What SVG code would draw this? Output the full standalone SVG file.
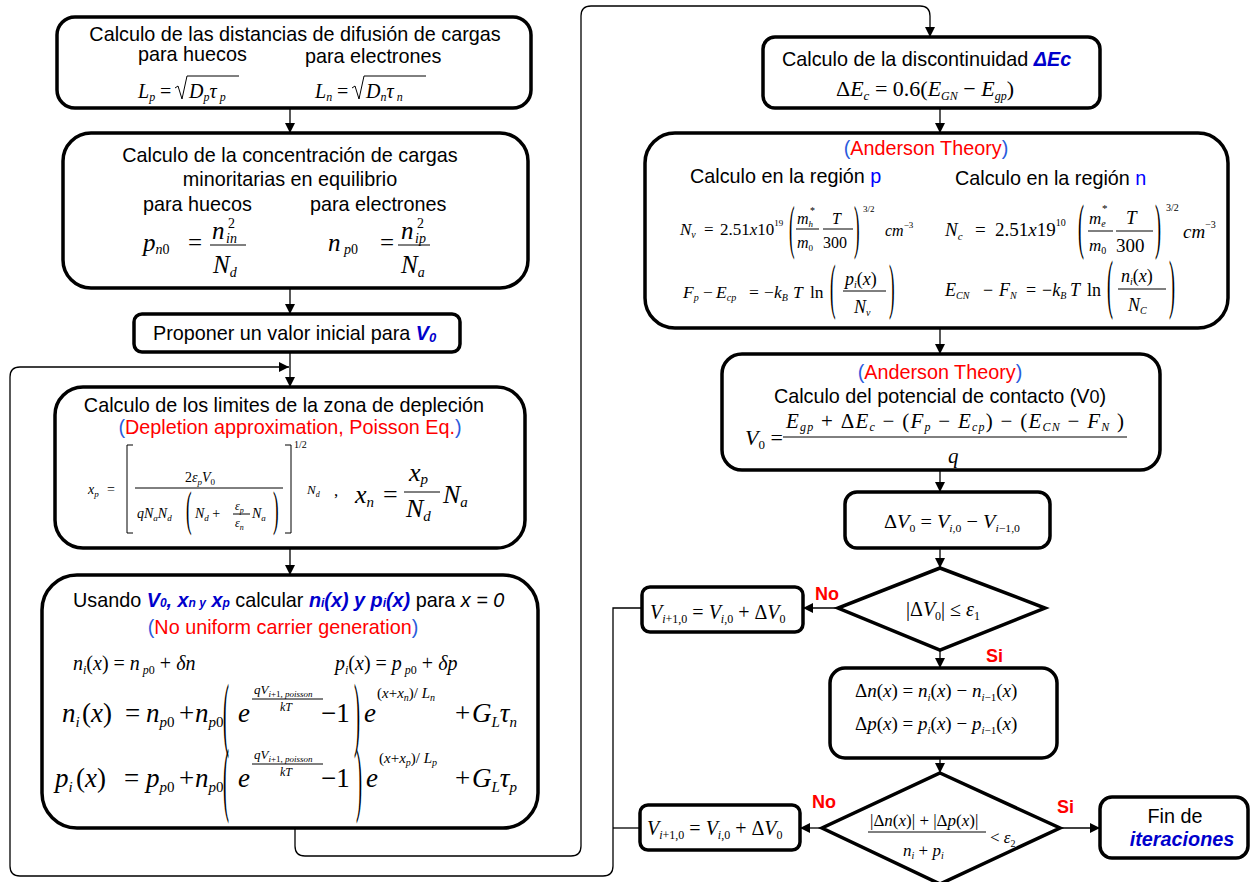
<svg xmlns="http://www.w3.org/2000/svg" width="1252" height="882" viewBox="0 0 1252 882">
<defs>
<marker id="ah" markerWidth="10" markerHeight="10" refX="10" refY="5" orient="auto" markerUnits="userSpaceOnUse">
<path d="M0,0 L10,5 L0,10 z" fill="#000"/>
</marker>
<style>
.box{fill:#fff;stroke:#000;stroke-width:3.5}
.c{fill:none;stroke:#000;stroke-width:1.3}
.t{font-family:"Liberation Sans",Arial,sans-serif;font-size:19.8px;fill:#000}
.m{font-family:"Liberation Serif","Times New Roman",serif;font-style:italic;fill:#000}
.u{font-style:normal}
.red{fill:#ff0000}
.bl{fill:#2a5bdc}
.db{fill:#0000cc;font-weight:bold;font-style:italic}
.lab{font-family:"Liberation Sans",Arial,sans-serif;font-size:18px;font-weight:bold;fill:#ff0000}
.bar{stroke:#000;stroke-width:1;fill:none}
.p{font-family:"Liberation Serif","Times New Roman",serif;font-size:12px;fill:#000}
</style>
</defs>
<rect width="1252" height="882" fill="#fff"/>

<g id="connectors">
<path class="c" d="M290,108 V133" marker-end="url(#ah)"/>
<path class="c" d="M290,288 V314" marker-end="url(#ah)"/>
<path class="c" d="M290,352 V387" marker-end="url(#ah)"/>
<path class="c" d="M290,548 V575" marker-end="url(#ah)"/>
<path class="c" d="M642,608 H613 V866 Q613,876 603,876 H20 Q10,876 10,866 V377 Q10,367 20,367 H289" marker-end="url(#ah)"/>
<path class="c" d="M640,828 H613"/>
<path class="c" d="M295,828 V846 Q295,856 305,856 H571 Q581,856 581,846 V16 Q581,6 591,6 H920 Q930,6 930,16 V37" marker-end="url(#ah)"/>
<path class="c" d="M940,108 V133" marker-end="url(#ah)"/>
<path class="c" d="M940,328 V354" marker-end="url(#ah)"/>
<path class="c" d="M940,470 V492" marker-end="url(#ah)"/>
<path class="c" d="M940,548 V568" marker-end="url(#ah)"/>
<path class="c" d="M838,608 H803" marker-end="url(#ah)"/>
<path class="c" d="M940,650 V668" marker-end="url(#ah)"/>
<path class="c" d="M940,758 V773" marker-end="url(#ah)"/>
<path class="c" d="M822,828 H800" marker-end="url(#ah)"/>
<path class="c" d="M1060,828 H1100" marker-end="url(#ah)"/>
</g>

<g id="n1">
<rect class="box" x="57" y="17" width="474" height="91" rx="18"/>
<text class="t" x="295" y="41" text-anchor="middle">Calculo de las distancias de difusión de cargas</text>
<text class="t" x="138" y="61">para huecos</text>
<text class="t" x="305" y="63">para electrones</text>
<text class="m" font-size="20" x="138" y="98">L<tspan font-size="12" dy="3">p</tspan><tspan class="u" dy="-3" x="160">=</tspan></text>
<polyline class="bar" points="175,88 178,86 182,99 187,76 239,76"/>
<text class="m" font-size="20" x="189" y="98">D<tspan font-size="12" dy="3">p</tspan><tspan dy="-3">τ</tspan><tspan font-size="12" dy="3"> p</tspan></text>
<text class="m" font-size="20" x="315" y="98">L<tspan font-size="12" dy="3">n</tspan><tspan class="u" dy="-3" x="337">=</tspan></text>
<polyline class="bar" points="352,88 355,86 359,99 364,76 426,76"/>
<text class="m" font-size="20" x="366" y="98">D<tspan font-size="12" dy="3">n</tspan><tspan dy="-3">τ</tspan><tspan font-size="12" dy="3"> n</tspan></text>
</g>

<g id="n2">
<rect class="box" x="63" y="133" width="465" height="155" rx="28"/>
<text class="t" x="290" y="162" text-anchor="middle">Calculo de la concentración de cargas</text>
<text class="t" x="290" y="186" text-anchor="middle">minoritarias en equilibrio</text>
<text class="t" x="143" y="211">para huecos</text>
<text class="t" x="310" y="211">para electrones</text>
<text class="m" font-size="25" x="143" y="251">p<tspan font-size="14" dy="3">n</tspan><tspan class="u" font-size="14">0</tspan><tspan class="u" dy="-3" x="188">=</tspan></text>
<text class="m" font-size="25" x="212" y="239">n</text>
<text class="m u" font-size="14" x="228" y="228">2</text>
<text class="m" font-size="14" x="226" y="243">in</text>
<line class="bar" x1="210" y1="245" x2="246" y2="245"/>
<text class="m" font-size="25" x="213" y="273">N<tspan font-size="14" dy="4">d</tspan></text>
<text class="m" font-size="25" x="328" y="251">n<tspan font-size="14" dy="3"> p</tspan><tspan class="u" font-size="14">0</tspan><tspan class="u" dy="-3" x="380">=</tspan></text>
<text class="m" font-size="25" x="401" y="239">n</text>
<text class="m u" font-size="14" x="417" y="228">2</text>
<text class="m" font-size="14" x="415" y="243">ip</text>
<line class="bar" x1="398" y1="245" x2="430" y2="245"/>
<text class="m" font-size="25" x="401" y="273">N<tspan font-size="14" dy="4">a</tspan></text>
</g>

<g id="n3">
<rect class="box" x="134" y="314" width="326" height="38" rx="8"/>
<text class="t" font-size="18.6" x="153" y="340">Proponer un valor inicial para <tspan class="db">V</tspan><tspan class="db" font-size="13" dy="2">0</tspan></text>
</g>

<g id="n4">
<rect class="box" x="55" y="387" width="470" height="161" rx="28"/>
<text class="t" x="284" y="412" text-anchor="middle">Calculo de los limites de la zona de depleción</text>
<text class="t" x="290" y="434" text-anchor="middle"><tspan class="bl">(</tspan><tspan class="red">Depletion approximation, Poisson Eq.</tspan><tspan class="bl">)</tspan></text>
<text class="m" font-size="14" x="88" y="494">x<tspan font-size="9" dy="3">p</tspan><tspan class="u" dy="-3" x="107">=</tspan></text>
<polyline class="bar" points="133,445 127,445 127,533 133,533"/>
<polyline class="bar" points="285,445 291,445 291,533 285,533"/>
<text class="m" font-size="14" x="185" y="482"><tspan class="u">2</tspan>ε<tspan font-size="9" dy="3">p</tspan><tspan dy="-3">V</tspan><tspan class="u" font-size="9" dy="3">0</tspan></text>
<line class="bar" x1="135" y1="488" x2="283" y2="488"/>
<text class="m" font-size="14" x="137" y="518">qN<tspan font-size="9" dy="3">a</tspan><tspan dy="-3">N</tspan><tspan font-size="9" dy="3">d</tspan></text>
<text class="p" transform="translate(186,524.5) scale(1.4,4)">(</text>
<text class="m" font-size="14" x="195" y="518">N<tspan font-size="9" dy="3">d</tspan><tspan class="u" dy="-3"> +</tspan></text>
<text class="m" font-size="12" x="235" y="510">ε<tspan font-size="8" dy="3">p</tspan></text>
<line class="bar" x1="233" y1="514" x2="250" y2="514"/>
<text class="m" font-size="12" x="235" y="527">ε<tspan font-size="8" dy="3">n</tspan></text>
<text class="m" font-size="14" x="252" y="518">N<tspan font-size="9" dy="3">a</tspan></text>
<text class="p" transform="translate(273,524.5) scale(1.4,4)">)</text>
<text class="m u" font-size="10" x="294" y="448">1/2</text>
<text class="m" font-size="13" x="307" y="494">N<tspan font-size="8" dy="3">d</tspan></text>
<text class="m u" font-size="17" x="334" y="496">,</text>
<text class="m" font-size="26" x="355" y="503">x<tspan font-size="15" dy="4">n</tspan><tspan class="u" dy="-4" x="383">=</tspan></text>
<text class="m" font-size="26" x="409" y="481">x<tspan font-size="15" dy="3">p</tspan></text>
<line class="bar" x1="404" y1="492" x2="440" y2="492"/>
<text class="m" font-size="26" x="406" y="517">N<tspan font-size="15" dy="4">d</tspan></text>
<text class="m" font-size="26" x="443" y="503">N<tspan font-size="15" dy="4">a</tspan></text>
</g>

<g id="n5">
<rect class="box" x="42" y="575" width="496" height="253" rx="35"/>
<text class="t" x="73" y="607">Usando <tspan class="db">V<tspan font-size="12">0</tspan>, x<tspan font-size="12">n y</tspan> x<tspan font-size="12">p</tspan></tspan> calcular <tspan class="db">n<tspan font-size="12">i</tspan>(x) y p<tspan font-size="12">i</tspan>(x)</tspan> para <tspan font-style="italic">x = 0</tspan></text>
<text class="t" x="283" y="634" text-anchor="middle"><tspan class="bl">(</tspan><tspan class="red">No uniform carrier generation</tspan><tspan class="bl">)</tspan></text>
<text class="m" font-size="20" x="73" y="670">n<tspan font-size="12" dy="4">i</tspan><tspan class="u" dy="-4">(</tspan>x<tspan class="u">) = </tspan>n<tspan font-size="12" dy="4"> p</tspan><tspan class="u" font-size="12">0</tspan><tspan class="u" dy="-4"> + </tspan>δn</text>
<text class="m" font-size="20" x="335" y="670">p<tspan font-size="12" dy="4">i</tspan><tspan class="u" dy="-4">(</tspan>x<tspan class="u">) = </tspan>p<tspan font-size="12" dy="4"> p</tspan><tspan class="u" font-size="12">0</tspan><tspan class="u" dy="-4"> + </tspan>δp</text>
<!-- row 1 -->
<text class="m" font-size="27" x="62" y="722">n<tspan font-size="15" dy="5">i</tspan><tspan class="u" dy="-5" x="82">(</tspan>x<tspan class="u">)</tspan></text>
<text class="m u" font-size="27" x="125" y="722">=</text>
<text class="m" font-size="27" x="146" y="722">n<tspan font-size="15" dy="5">p</tspan><tspan class="u" font-size="15">0</tspan></text>
<text class="m u" font-size="27" x="179" y="722">+</text>
<text class="m" font-size="27" x="195" y="722">n<tspan font-size="15" dy="5">p</tspan><tspan class="u" font-size="15">0</tspan></text>
<text class="p" transform="translate(223,740.5) scale(1.5,6.84)">(</text>
<text class="m" font-size="27" x="238" y="722">e</text>
<text class="m" font-size="13" x="254" y="694">qV<tspan font-size="9" dy="3">i</tspan><tspan class="u" font-size="9">+1, </tspan><tspan font-size="9">poisson</tspan></text>
<line class="bar" x1="252" y1="699" x2="323" y2="699"/>
<text class="m" font-size="12" x="280" y="711">kT</text>
<text class="m u" font-size="27" x="321" y="722">−1</text>
<text class="p" transform="translate(354,740.5) scale(1.5,6.84)">)</text>
<text class="m" font-size="27" x="364" y="722">e</text>
<text class="m" font-size="15" x="377" y="698"><tspan class="u">(</tspan>x<tspan class="u">+</tspan>x<tspan font-size="10" dy="3">n</tspan><tspan class="u" dy="-3">)/ </tspan>L<tspan font-size="10" dy="3">n</tspan></text>
<text class="m u" font-size="27" x="455" y="722">+</text>
<text class="m" font-size="27" x="472" y="722">G<tspan font-size="15" dy="5">L</tspan><tspan dy="-5">τ</tspan><tspan font-size="15" dy="5">n</tspan></text>
<!-- row 2 -->
<text class="m" font-size="27" x="55" y="787">p<tspan font-size="15" dy="5">i</tspan><tspan class="u" dy="-5" x="76">(</tspan>x<tspan class="u">)</tspan></text>
<text class="m u" font-size="27" x="124" y="787">=</text>
<text class="m" font-size="27" x="146" y="787">p<tspan font-size="15" dy="5">p</tspan><tspan class="u" font-size="15">0</tspan></text>
<text class="m u" font-size="27" x="179" y="787">+</text>
<text class="m" font-size="27" x="195" y="787">n<tspan font-size="15" dy="5">p</tspan><tspan class="u" font-size="15">0</tspan></text>
<text class="p" transform="translate(223,805.5) scale(1.5,6.84)">(</text>
<text class="m" font-size="27" x="238" y="787">e</text>
<text class="m" font-size="13" x="254" y="759">qV<tspan font-size="9" dy="3">i</tspan><tspan class="u" font-size="9">+1, </tspan><tspan font-size="9">poisson</tspan></text>
<line class="bar" x1="252" y1="764" x2="323" y2="764"/>
<text class="m" font-size="12" x="280" y="776">kT</text>
<text class="m u" font-size="27" x="321" y="787">−1</text>
<text class="p" transform="translate(356,805.5) scale(1.5,6.84)">)</text>
<text class="m" font-size="27" x="366" y="787">e</text>
<text class="m" font-size="15" x="379" y="763"><tspan class="u">(</tspan>x<tspan class="u">+</tspan>x<tspan font-size="10" dy="3">p</tspan><tspan class="u" dy="-3">)/ </tspan>L<tspan font-size="10" dy="3">p</tspan></text>
<text class="m u" font-size="27" x="455" y="787">+</text>
<text class="m" font-size="27" x="472" y="787">G<tspan font-size="15" dy="5">L</tspan><tspan dy="-5">τ</tspan><tspan font-size="15" dy="5">p</tspan></text>
</g>

<g id="n6">
<rect class="box" x="763" y="37" width="337" height="71" rx="12"/>
<text class="t" x="782" y="66">Calculo de la discontinuidad <tspan class="db">ΔEc</tspan></text>
<text class="m" font-size="22" x="836" y="96"><tspan class="u">Δ</tspan>E<tspan font-size="13" dy="4">c</tspan><tspan class="u" dy="-4"> = 0.6(</tspan>E<tspan font-size="12" dy="4">GN</tspan><tspan class="u" dy="-4"> − </tspan>E<tspan font-size="12" dy="4">gp</tspan><tspan class="u" dy="-4">)</tspan></text>
</g>

<g id="n7">
<rect class="box" x="645" y="133" width="583" height="195" rx="30"/>
<text class="t" x="926" y="155" text-anchor="middle"><tspan class="bl">(</tspan><tspan class="red">Anderson Theory</tspan><tspan class="bl">)</tspan></text>
<text class="t" font-size="23" x="690" y="183">Calculo en la región <tspan fill="#0000ff">p</tspan></text>
<text class="t" font-size="23" x="955" y="185">Calculo en la región <tspan fill="#0000ff">n</tspan></text>
<!-- Nv -->
<text class="m" font-size="17" x="680" y="235">N<tspan font-size="10" dy="3">v</tspan><tspan class="u" dy="-3" x="704">=</tspan><tspan class="u" x="720">2.51</tspan>x<tspan class="u">10</tspan><tspan class="u" font-size="9" dy="-9">19</tspan></text>
<text class="p" transform="translate(789,246.6) scale(1.4,4.88)">(</text>
<text class="m" font-size="16" x="797" y="224">m<tspan font-size="9" dy="3">h</tspan></text>
<text class="m u" font-size="10" x="810" y="214">*</text>
<line class="bar" x1="796" y1="229" x2="819" y2="229"/>
<text class="m" font-size="16" x="797" y="248">m<tspan class="u" font-size="9" dy="3">0</tspan></text>
<text class="m" font-size="16" x="832" y="224">T</text>
<line class="bar" x1="823" y1="229" x2="853" y2="229"/>
<text class="m u" font-size="16" x="823" y="248">300</text>
<text class="p" transform="translate(854,246.6) scale(1.4,4.88)">)</text>
<text class="m u" font-size="9" x="863" y="212">3/2</text>
<text class="m" font-size="16" x="885" y="236">cm<tspan class="u" font-size="9" dy="-8">−3</tspan></text>
<!-- Nc -->
<text class="m" font-size="19" x="945" y="236">N<tspan font-size="11" dy="4">c</tspan><tspan class="u" dy="-4" x="975">=</tspan><tspan class="u" x="995">2.51</tspan>x<tspan class="u">19</tspan><tspan class="u" font-size="10" dy="-10">10</tspan></text>
<text class="p" transform="translate(1078,247) scale(1.5,5.18)">(</text>
<text class="m" font-size="17" x="1089" y="224">m<tspan font-size="10" dy="3">e</tspan></text>
<text class="m u" font-size="11" x="1102" y="212">*</text>
<line class="bar" x1="1088" y1="231" x2="1113" y2="231"/>
<text class="m" font-size="17" x="1089" y="251">m<tspan class="u" font-size="10" dy="3">0</tspan></text>
<text class="m" font-size="19" x="1126" y="224">T</text>
<line class="bar" x1="1116" y1="231" x2="1153" y2="231"/>
<text class="m u" font-size="19" x="1116" y="252">300</text>
<text class="p" transform="translate(1155,247) scale(1.5,5.18)">)</text>
<text class="m u" font-size="10" x="1166" y="211">3/2</text>
<text class="m" font-size="19" x="1183" y="238">cm<tspan class="u" font-size="10" dy="-10">−3</tspan></text>
<!-- Fp -->
<text class="m" font-size="17.5" x="683" y="298">F<tspan font-size="10" dy="3">p</tspan><tspan class="u" dy="-3" x="703">−</tspan><tspan x="716">E</tspan><tspan font-size="10" dy="3">cp</tspan><tspan class="u" dy="-3" x="749">=</tspan><tspan class="u" x="764">−</tspan>k<tspan font-size="10" dy="3">B</tspan><tspan dy="-3" x="793">T</tspan><tspan class="u" x="810">ln</tspan></text>
<text class="p" transform="translate(830,307.2) scale(1.4,5.08)">(</text>
<text class="m" font-size="18" x="845" y="285">p<tspan font-size="10" dy="3">i</tspan><tspan class="u" dy="-3">(</tspan>x<tspan class="u">)</tspan></text>
<line class="bar" x1="843" y1="291" x2="886" y2="291"/>
<text class="m" font-size="18" x="854" y="313">N<tspan font-size="10" dy="3">v</tspan></text>
<text class="p" transform="translate(889,307.2) scale(1.4,5.08)">)</text>
<!-- ECN -->
<text class="m" font-size="18" x="945" y="296">E<tspan font-size="10" dy="3">CN</tspan><tspan class="u" dy="-3" x="983">−</tspan><tspan x="999">F</tspan><tspan font-size="10" dy="3">N</tspan><tspan class="u" dy="-3" x="1026">=</tspan><tspan class="u" x="1042">−</tspan>k<tspan font-size="10" dy="3">B</tspan><tspan dy="-3" x="1070">T</tspan><tspan class="u" x="1087">ln</tspan></text>
<text class="p" transform="translate(1107,306.4) scale(1.5,5.47)">(</text>
<text class="m" font-size="18" x="1121" y="282">n<tspan font-size="10" dy="3">i</tspan><tspan class="u" dy="-3">(</tspan>x<tspan class="u">)</tspan></text>
<line class="bar" x1="1118" y1="289" x2="1166" y2="289"/>
<text class="m" font-size="18" x="1128" y="311">N<tspan font-size="10" dy="3">C</tspan></text>
<text class="p" transform="translate(1169,306.4) scale(1.5,5.47)">)</text>
</g>

<g id="n8">
<rect class="box" x="722" y="354" width="438" height="116" rx="20"/>
<text class="t" x="940" y="379" text-anchor="middle"><tspan class="bl">(</tspan><tspan class="red">Anderson Theory</tspan><tspan class="bl">)</tspan></text>
<text class="t" font-size="22.5" x="940" y="403" text-anchor="middle">Calculo del potencial de contacto (V<tspan font-size="18">0</tspan>)</text>
<text class="m" font-size="22" x="745" y="445">V<tspan class="u" font-size="13" dy="4">0</tspan><tspan class="u" dy="-4"> =</tspan></text>
<text class="m" font-size="21" x="786" y="428" textLength="338" lengthAdjust="spacing">E<tspan font-size="12" dy="3">gp</tspan><tspan class="u" dy="-3"> + Δ</tspan>E<tspan font-size="12" dy="3">c</tspan><tspan class="u" dy="-3"> − (</tspan>F<tspan font-size="12" dy="3">p</tspan><tspan class="u" dy="-3"> − </tspan>E<tspan font-size="12" dy="3">cp</tspan><tspan class="u" dy="-3">) − (</tspan>E<tspan font-size="12" dy="3">CN</tspan><tspan class="u" dy="-3"> − </tspan>F<tspan font-size="12" dy="3">N</tspan><tspan class="u" dy="-3"> )</tspan></text>
<line class="bar" x1="783" y1="437" x2="1127" y2="437"/>
<text class="m" font-size="21" x="948" y="463">q</text>
</g>

<g id="n9">
<rect class="box" x="845" y="492" width="205" height="56" rx="12"/>
<text class="m" font-size="19" x="884" y="528" textLength="136" lengthAdjust="spacingAndGlyphs"><tspan class="u">Δ</tspan>V<tspan font-size="11" class="u" dy="4">0</tspan><tspan class="u" dy="-4"> = </tspan>V<tspan font-size="11" dy="4">i</tspan><tspan class="u" font-size="11">,0</tspan><tspan class="u" dy="-4"> − </tspan>V<tspan font-size="11" dy="4">i</tspan><tspan class="u" font-size="11">−1,0</tspan></text>
</g>

<g id="n10">
<polygon class="box" points="940,568 1045,608 940,650 838,608"/>
<text class="m" font-size="20" x="906" y="616"><tspan class="u">|Δ</tspan>V<tspan font-size="12" class="u" dy="4">0</tspan><tspan class="u" dy="-4">| ≤ </tspan>ε<tspan font-size="12" class="u" dy="4">1</tspan></text>
</g>

<g id="n11">
<rect class="box" x="642" y="587" width="161" height="45" rx="8"/>
<text class="m" font-size="20" x="650" y="619">V<tspan font-size="12" dy="4">i</tspan><tspan class="u" font-size="12">+1,0</tspan><tspan class="u" dy="-4"> = </tspan>V<tspan font-size="12" dy="4">i</tspan><tspan class="u" font-size="12">,0</tspan><tspan class="u" dy="-4"> + Δ</tspan>V<tspan class="u" font-size="12" dy="4">0</tspan></text>
</g>

<g id="n12">
<rect class="box" x="830" y="668" width="227" height="90" rx="15"/>
<text class="m" font-size="19" x="855" y="697"><tspan class="u">Δ</tspan>n<tspan class="u">(</tspan>x<tspan class="u">) = </tspan>n<tspan font-size="11" dy="4">i</tspan><tspan class="u" dy="-4">(</tspan>x<tspan class="u">) − </tspan>n<tspan font-size="11" dy="4">i</tspan><tspan class="u" font-size="11">−1</tspan><tspan class="u" dy="-4">(</tspan>x<tspan class="u">)</tspan></text>
<text class="m" font-size="19" x="855" y="730"><tspan class="u">Δ</tspan>p<tspan class="u">(</tspan>x<tspan class="u">) = </tspan>p<tspan font-size="11" dy="4">i</tspan><tspan class="u" dy="-4">(</tspan>x<tspan class="u">) − </tspan>p<tspan font-size="11" dy="4">i</tspan><tspan class="u" font-size="11">−1</tspan><tspan class="u" dy="-4">(</tspan>x<tspan class="u">)</tspan></text>
</g>

<g id="n13">
<polygon class="box" points="940,773 1060,828 940,884 822,828"/>
<text class="m" font-size="17" x="870" y="826"><tspan class="u">|Δ</tspan>n<tspan class="u">(</tspan>x<tspan class="u">)| + |Δ</tspan>p<tspan class="u">(</tspan>x<tspan class="u">)|</tspan></text>
<line class="bar" x1="868" y1="832" x2="986" y2="832"/>
<text class="m" font-size="17" x="903" y="856">n<tspan font-size="10" dy="3">i</tspan><tspan class="u" dy="-3"> + </tspan>p<tspan font-size="10" dy="3">i</tspan></text>
<text class="m" font-size="17" x="990" y="843"><tspan class="u">&lt; </tspan>ε<tspan class="u" font-size="10" dy="4">2</tspan></text>
</g>

<g id="n14">
<rect class="box" x="640" y="805" width="160" height="45" rx="8"/>
<text class="m" font-size="20" x="647" y="835">V<tspan font-size="12" dy="4">i</tspan><tspan class="u" font-size="12">+1,0</tspan><tspan class="u" dy="-4"> = </tspan>V<tspan font-size="12" dy="4">i</tspan><tspan class="u" font-size="12">,0</tspan><tspan class="u" dy="-4"> + Δ</tspan>V<tspan class="u" font-size="12" dy="4">0</tspan></text>
</g>

<g id="n15">
<rect class="box" x="1100" y="797" width="148" height="61" rx="12"/>
<text class="t" x="1175" y="823" text-anchor="middle">Fin de</text>
<text class="t db" x="1182" y="846" text-anchor="middle">iteraciones</text>
</g>

<g id="labels">
<text class="lab" x="815" y="600">No</text>
<text class="lab" x="986" y="662">Si</text>
<text class="lab" x="812" y="808">No</text>
<text class="lab" x="1057" y="813">Si</text>
</g>
</svg>
